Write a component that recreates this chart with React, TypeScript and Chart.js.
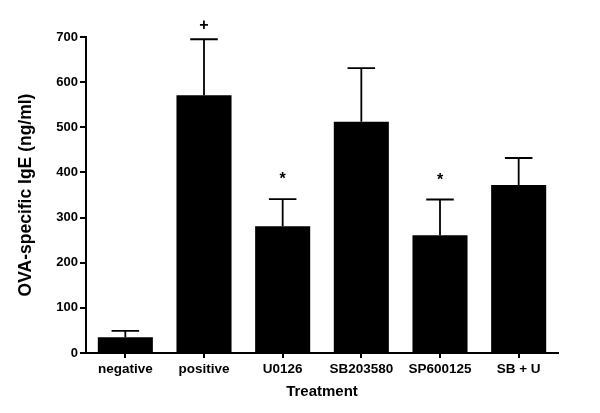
import React, { useEffect, useRef } from "react";
import { Chart, registerables } from "chart.js";

Chart.register(...registerables);

const categories = ["negative", "positive", "U0126", "SB203580", "SP600125", "SB + U"];
const means = [35, 571, 281, 512, 261, 372];
const errors = [14, 124, 60, 119, 79, 60];
const marks = ["", "+", "*", "", "*", ""];
const yTicks = [0, 100, 200, 300, 400, 500, 600, 700];

const FONT = "'Liberation Sans', Arial, Helvetica, sans-serif";

const errorBarPlugin = {
  id: "errorBars",
  afterDatasetsDraw(chart: any) {
    const ctx = chart.ctx;
    const xs = chart.scales.x;
    const ys = chart.scales.y;
    const meta = chart.getDatasetMeta(0);
    ctx.save();
    ctx.strokeStyle = "#000";
    ctx.fillStyle = "#000";
    ctx.lineWidth = 1.8;
    means.forEach((m, i) => {
      const x = xs.getPixelForValue(i);
      const yTop = ys.getPixelForValue(m);
      const yCap = ys.getPixelForValue(m + errors[i]);
      const bw = meta.data[i] ? meta.data[i].width : 54;
      const half = bw * 0.25;
      ctx.beginPath();
      ctx.moveTo(x, yTop);
      ctx.lineTo(x, yCap);
      ctx.moveTo(x - half, yCap);
      ctx.lineTo(x + half, yCap);
      ctx.stroke();
      if (marks[i]) {
        ctx.font = "bold 16px " + FONT;
        ctx.textAlign = "center";
        ctx.textBaseline = "middle";
        const off = marks[i] === "*" ? 19 : 14;
        ctx.fillText(marks[i], x, yCap - off);
      }
    });
    ctx.restore();
  },
};

export default function App() {
  const ref = useRef<HTMLCanvasElement>(null);
  useEffect(() => {
    document.body.style.margin = "0";
    const chart = new Chart(ref.current!, {
      type: "bar",
      data: {
        labels: categories,
        datasets: [
          {
            data: means,
            backgroundColor: "#000",
            borderWidth: 0,
            barPercentage: 0.7,
            categoryPercentage: 1,
          },
        ],
      },
      options: {
        responsive: false,
        animation: false,
        layout: { padding: { left: 0, right: 42, top: 37, bottom: 0 } },
        plugins: { legend: { display: false }, tooltip: { enabled: false } },
        scales: {
          x: {
            offset: true,
            border: { color: "#000", width: 2 },
            grid: { drawOnChartArea: false, drawTicks: true, tickLength: 5, color: "#000", lineWidth: 2, offset: false },
            ticks: { color: "#000", font: { family: FONT, size: 13.5, weight: "bold" }, padding: 3, maxRotation: 0 },
            title: {
              display: true,
              text: "Treatment",
              color: "#000",
              font: { family: FONT, size: 15, weight: "bold" },
              padding: { top: 2, bottom: 12 },
            },
            afterFit(scale: any) {
              scale.height = 60;
            },
          },
          y: {
            min: 0,
            max: 700,
            afterBuildTicks(scale: any) {
              scale.ticks = yTicks.map((v) => ({ value: v }));
            },
            border: { color: "#000", width: 2 },
            grid: { drawOnChartArea: false, drawTicks: true, tickLength: 6, color: "#000", lineWidth: 2 },
            ticks: { color: "#000", font: { family: FONT, size: 13, weight: "bold" }, padding: 2 },
            title: {
              display: true,
              text: "OVA-specific IgE (ng/ml)",
              color: "#000",
              font: { family: FONT, size: 17.5, weight: "bold" },
              padding: { top: 16, bottom: 0 },
            },
            afterFit(scale: any) {
              scale.width = 86;
            },
          },
        },
      },
      plugins: [errorBarPlugin],
    });
    return () => chart.destroy();
  }, []);
  return (
    <div style={{ width: 600, height: 413 }}>
      <canvas ref={ref} width={600} height={413} style={{ display: "block" }} />
    </div>
  );
}
